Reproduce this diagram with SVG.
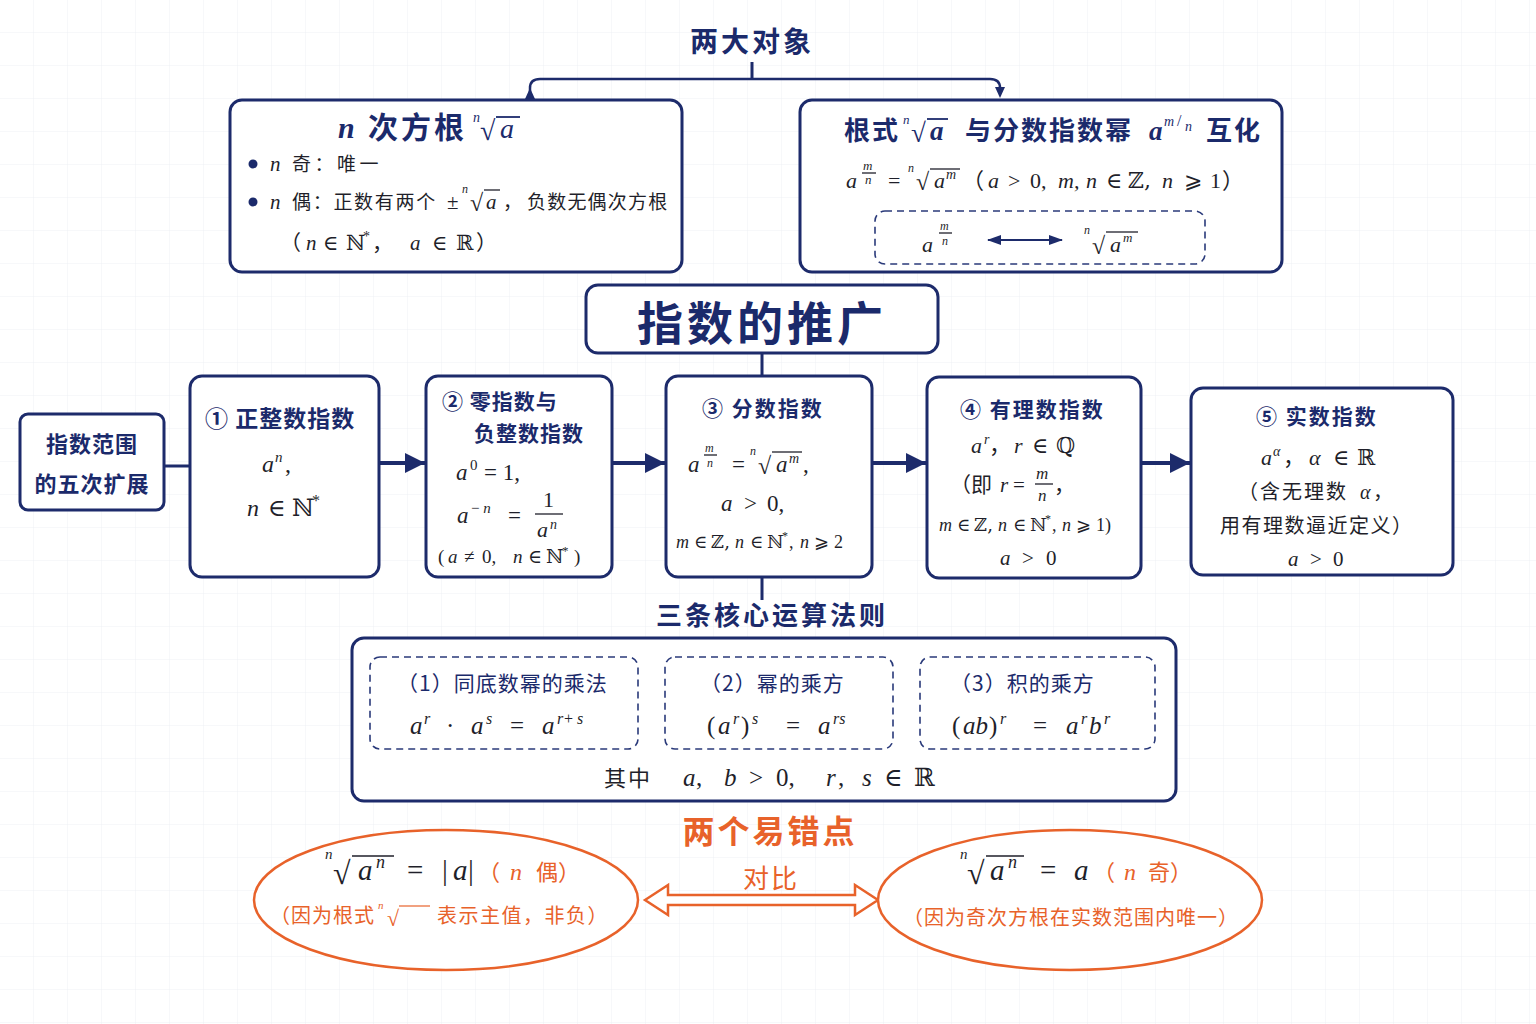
<svg xmlns="http://www.w3.org/2000/svg" width="1536" height="1024" viewBox="0 0 1536 1024">
<defs>
<pattern id="grid" width="34" height="33" patternUnits="userSpaceOnUse">
<path d="M34 0V33M0 33H34" fill="none" stroke="#eef1f5" stroke-width="1"/>
</pattern>
<marker id="ah" markerWidth="12" markerHeight="12" refX="6" refY="6" orient="auto" markerUnits="userSpaceOnUse">
<path d="M0,1 L11,6 L0,11 Z" fill="#1d2b6b"/>
</marker>
<marker id="big" markerWidth="22" markerHeight="22" refX="20" refY="11" orient="auto" markerUnits="userSpaceOnUse">
<path d="M0,1 L20,11 L0,21 Z" fill="#1d2b6b"/>
</marker>
<marker id="sm" markerWidth="14" markerHeight="12" refX="13" refY="6" orient="auto-start-reverse" markerUnits="userSpaceOnUse">
<path d="M0,1 L14,6 L0,11 Z" fill="#1d2b6b"/>
</marker>
</defs>
<style>
.box{fill:#fff;stroke:#1d2b6b;stroke-width:3}
.dash{fill:none;stroke:#2a3a7a;stroke-width:1.6;stroke-dasharray:7 5}
.ell{fill:#fff;stroke:#e8622a;stroke-width:2.5}
.cj{font-family:"Noto Sans CJK SC","Noto Sans",sans-serif}
.ms{font-family:"Liberation Serif","DejaVu Serif",serif}
.mi{font-family:"Liberation Serif","DejaVu Serif",serif;font-style:italic}
.ds{font-family:"DejaVu Serif","Liberation Serif",serif}
.navy{fill:#1b2a6b}
.dk{fill:#1f1f2a}
.or{fill:#e8622a}
.b{font-weight:bold}
.ln{stroke:#1d2b6b;stroke-width:3;fill:none}
.ov{stroke:#1f1f2a;stroke-width:1.3}
</style>
<rect width="1536" height="1024" fill="#fff"/>
<rect width="1536" height="1024" fill="url(#grid)"/>

<g id="connectors">
<path class="ln" d="M752,62 V79"/>
<path class="ln" d="M530,93 V88 Q530,79 540,79 H990 Q1000,79 1000,88 V93" marker-start="url(#ah)" marker-end="url(#ah)" style="stroke-width:2.5"/>
<path class="ln" d="M762,353 V377"/>
<path class="ln" d="M164,466 H190"/>
<path class="ln" d="M379,463 H425" style="stroke-width:4" marker-end="url(#big)"/>
<path class="ln" d="M612,463 H665" style="stroke-width:4" marker-end="url(#big)"/>
<path class="ln" d="M872,463 H926" style="stroke-width:4" marker-end="url(#big)"/>
<path class="ln" d="M1141,463 H1190" style="stroke-width:4" marker-end="url(#big)"/>
<path class="ln" d="M762,577 V600"/>
<polygon points="645,900 668,885 668,895 855,895 855,885 878,900 855,915 855,905 668,905 668,915" fill="#fff" stroke="#e8622a" stroke-width="2.5" stroke-linejoin="miter"/>
</g>

<g id="title-top">
<text x="752" y="52" text-anchor="middle" class="cj navy b" font-size="28" letter-spacing="3">两大对象</text>
</g>

<g id="node-nroot">
<rect class="box" x="230" y="100" width="452" height="172" rx="12"/>
<text y="138" font-size="30" class="navy b"><tspan class="mi" x="338">n</tspan><tspan class="cj" x="368" letter-spacing="3">次方根</tspan></text>
<text x="473" y="122" font-size="14" class="mi navy">n</text>
<text x="480" y="140" font-size="28" class="ms navy">√</text>
<line x1="496" y1="117" x2="520" y2="117" stroke="#1b2a6b" stroke-width="1.8"/>
<text x="500" y="138" font-size="28" class="mi navy">a</text>
<circle cx="253" cy="164" r="4.5" fill="#1b2a6b"/>
<text y="171" font-size="19" class="dk"><tspan class="mi" x="270" font-size="21">n</tspan><tspan class="cj" x="292" letter-spacing="3.5">奇：唯一</tspan></text>
<circle cx="253" cy="202" r="4.5" fill="#1b2a6b"/>
<text y="209" font-size="19" class="dk"><tspan class="mi" x="270" font-size="21">n</tspan><tspan class="cj" x="292" letter-spacing="1.7">偶：正数有两个</tspan><tspan class="ms" x="447" font-size="21">±</tspan><tspan class="cj" x="503">，</tspan><tspan class="cj" x="527" letter-spacing="1.2">负数无偶次方根</tspan></text>
<text x="462" y="193" font-size="12" class="mi dk">n</text>
<text x="470" y="211" font-size="24" class="ms dk">√</text>
<line class="ov" x1="484" y1="190" x2="500" y2="190"/>
<text x="486" y="209" font-size="21" class="mi dk">a</text>
<text y="250" font-size="21" class="dk"><tspan class="cj" x="280">（</tspan><tspan class="mi" x="306">n</tspan><tspan class="ms" x="323">∈</tspan><tspan class="ds" x="346">ℕ</tspan><tspan class="ms" x="363" dy="-9" font-size="14">*</tspan><tspan class="cj" x="372" dy="9">，</tspan><tspan class="mi" x="410">a</tspan><tspan class="ms" x="432">∈</tspan><tspan class="ds" x="456">ℝ</tspan><tspan class="cj" x="476">）</tspan></text>
</g>

<g id="node-convert">
<rect class="box" x="800" y="100" width="482" height="172" rx="12"/>
<text y="140" font-size="26" class="navy b"><tspan class="cj" x="844" letter-spacing="2">根式</tspan><tspan class="mi" x="930" font-size="27">a</tspan><tspan class="cj" x="965" letter-spacing="2">与分数指数幂</tspan><tspan class="mi" x="1149" font-size="27">a</tspan><tspan class="cj" x="1206" letter-spacing="2">互化</tspan></text>
<text x="903" y="124" font-size="13" class="mi navy">n</text>
<text x="911" y="142" font-size="27" class="ms navy">√</text>
<line x1="927" y1="119" x2="948" y2="119" stroke="#1b2a6b" stroke-width="1.8"/>
<text x="1164" y="126" font-size="14" class="mi navy">m</text>
<text x="1177" y="126" font-size="16" class="ms navy">/</text>
<text x="1185" y="131" font-size="14" class="mi navy">n</text>
<text y="188" font-size="22" class="dk"><tspan class="mi" x="846">a</tspan><tspan class="ms" x="888">=</tspan><tspan class="mi" x="934">a</tspan><tspan class="mi" x="946" dy="-9" font-size="14">m</tspan><tspan class="cj" x="962" dy="9">（</tspan><tspan class="mi" x="988">a</tspan><tspan class="ms" x="1008">&gt;</tspan><tspan class="ms" x="1030">0,</tspan><tspan class="mi" x="1058">m,</tspan><tspan class="mi" x="1086">n</tspan><tspan class="ms" x="1106">∈</tspan><tspan class="ds" x="1128">ℤ,</tspan><tspan class="mi" x="1162">n</tspan><tspan class="ds" x="1184">⩾</tspan><tspan class="ms" x="1210">1</tspan><tspan class="cj" x="1222">）</tspan></text>
<text x="863" y="170" font-size="13" class="mi dk">m</text>
<line class="ov" x1="862" y1="173" x2="876" y2="173"/>
<text x="865" y="184" font-size="13" class="mi dk">n</text>
<text x="908" y="172" font-size="12" class="mi dk">n</text>
<text x="916" y="190" font-size="24" class="ms dk">√</text>
<line class="ov" x1="930" y1="169" x2="960" y2="169"/>
<rect class="dash" x="875" y="211" width="330" height="53" rx="10"/>
<text x="922" y="252" font-size="22" class="mi dk">a</text>
<text x="940" y="230" font-size="12" class="mi dk">m</text>
<line class="ov" x1="939" y1="233" x2="952" y2="233"/>
<text x="942" y="245" font-size="12" class="mi dk">n</text>
<line x1="988" y1="240" x2="1062" y2="240" stroke="#1d2b6b" stroke-width="2" marker-start="url(#sm)" marker-end="url(#sm)"/>
<text x="1084" y="234" font-size="12" class="mi dk">n</text>
<text x="1092" y="254" font-size="24" class="ms dk">√</text>
<line class="ov" x1="1106" y1="232" x2="1138" y2="232"/>
<text x="1110" y="252" font-size="22" class="mi dk">a</text>
<text x="1123" y="242" font-size="13" class="mi dk">m</text>
</g>

<g id="node-center">
<rect class="box" x="586" y="285" width="352" height="68" rx="12"/>
<text x="762" y="340" text-anchor="middle" class="cj navy b" font-size="46" letter-spacing="4">指数的推广</text>
</g>

<g id="node-range">
<rect class="box" x="20" y="414" width="144" height="96" rx="8"/>
<text x="92" y="452" text-anchor="middle" class="cj navy b" font-size="22" letter-spacing="1">指数范围</text>
<text x="92" y="492" text-anchor="middle" class="cj navy b" font-size="22" letter-spacing="1">的五次扩展</text>
</g>

<g id="node-1">
<rect class="box" x="190" y="376" width="189" height="201" rx="12"/>
<text x="205" y="427" class="cj navy b" font-size="23" letter-spacing="1">① 正整数指数</text>
<text y="472" font-size="24" class="dk"><tspan class="mi" x="262">a</tspan><tspan class="mi" x="275" dy="-10" font-size="15">n</tspan><tspan class="ms" x="285" dy="10">,</tspan></text>
<text y="516" font-size="24" class="dk"><tspan class="mi" x="247">n</tspan><tspan class="ms" x="268">∈</tspan><tspan class="ds" x="292">ℕ</tspan><tspan class="ms" x="312" dy="-10" font-size="16">*</tspan></text>
</g>

<g id="node-2">
<rect class="box" x="426" y="376" width="186" height="201" rx="12"/>
<text x="442" y="409" class="cj navy b" font-size="21" letter-spacing="1">② 零指数与</text>
<text x="474" y="441" class="cj navy b" font-size="21" letter-spacing="1">负整数指数</text>
<text y="480" font-size="23" class="dk"><tspan class="mi" x="456">a</tspan><tspan class="ms" x="470" dy="-10" font-size="15">0</tspan><tspan class="ms" x="484" dy="10">= 1,</tspan></text>
<text y="523" font-size="23" class="dk"><tspan class="mi" x="457">a</tspan><tspan class="ms" x="471" dy="-10" font-size="15">− </tspan><tspan class="mi" font-size="15">n</tspan><tspan class="ms" x="508" dy="10">=</tspan></text>
<text x="543" y="507" font-size="22" class="ms dk">1</text>
<line class="ov" x1="535" y1="514" x2="563" y2="514"/>
<text y="537" font-size="22" class="dk"><tspan class="mi" x="537">a</tspan><tspan class="mi" x="550" dy="-8" font-size="14">n</tspan></text>
<text y="563" font-size="19" class="dk"><tspan class="ms" x="438">(</tspan><tspan class="mi" x="448">a</tspan><tspan class="ms" x="464">≠</tspan><tspan class="ms" x="482">0,</tspan><tspan class="mi" x="513">n</tspan><tspan class="ms" x="528">∈</tspan><tspan class="ds" x="546">ℕ</tspan><tspan class="ms" x="562" dy="-8" font-size="13">*</tspan><tspan class="ms" x="574" dy="8">)</tspan></text>
</g>

<g id="node-3">
<rect class="box" x="666" y="376" width="206" height="201" rx="12"/>
<text x="702" y="416" class="cj navy b" font-size="21" letter-spacing="2">③ 分数指数</text>
<text y="472" font-size="23" class="dk"><tspan class="mi" x="688">a</tspan><tspan class="ms" x="732">=</tspan><tspan class="mi" x="776">a</tspan><tspan class="mi" x="789" dy="-9" font-size="14">m</tspan><tspan class="ms" x="803" dy="9">,</tspan></text>
<text x="705" y="452" font-size="12" class="mi dk">m</text>
<line class="ov" x1="704" y1="455" x2="717" y2="455"/>
<text x="707" y="467" font-size="12" class="mi dk">n</text>
<text x="750" y="455" font-size="12" class="mi dk">n</text>
<text x="758" y="474" font-size="24" class="ms dk">√</text>
<line class="ov" x1="772" y1="452" x2="802" y2="452"/>
<text y="511" font-size="23" class="dk"><tspan class="mi" x="721">a</tspan><tspan class="ms" x="744">&gt;</tspan><tspan class="ms" x="767">0,</tspan></text>
<text y="548" font-size="18" class="dk"><tspan class="mi" x="676">m</tspan><tspan class="ms" x="694">∈</tspan><tspan class="ds" x="711">ℤ,</tspan><tspan class="mi" x="735">n</tspan><tspan class="ms" x="750">∈</tspan><tspan class="ds" x="767">ℕ</tspan><tspan class="ms" x="782" dy="-8" font-size="12">*</tspan><tspan class="ms" x="789" dy="8">,</tspan><tspan class="mi" x="800">n</tspan><tspan class="ds" x="814">⩾</tspan><tspan class="ms" x="834">2</tspan></text>
</g>

<g id="node-4">
<rect class="box" x="927" y="377" width="214" height="201" rx="12"/>
<text x="960" y="417" class="cj navy b" font-size="21" letter-spacing="2">④ 有理数指数</text>
<text y="453" font-size="22" class="dk"><tspan class="mi" x="971">a</tspan><tspan class="mi" x="984" dy="-9" font-size="14">r</tspan><tspan class="cj" x="989" dy="9">，</tspan><tspan class="mi" x="1014">r</tspan><tspan class="ms" x="1032">∈</tspan><tspan class="ds" x="1056">ℚ</tspan></text>
<text y="492" font-size="21" class="dk"><tspan class="cj" x="950">（即</tspan><tspan class="mi" x="1000">r</tspan><tspan class="ms" x="1013">=</tspan><tspan class="cj" x="1054">，</tspan></text>
<text x="1036" y="479" font-size="17" class="mi dk">m</text>
<line class="ov" x1="1035" y1="484" x2="1053" y2="484"/>
<text x="1038" y="501" font-size="17" class="mi dk">n</text>
<text y="531" font-size="18" class="dk"><tspan class="mi" x="939">m</tspan><tspan class="ms" x="957">∈</tspan><tspan class="ds" x="974">ℤ,</tspan><tspan class="mi" x="998">n</tspan><tspan class="ms" x="1013">∈</tspan><tspan class="ds" x="1030">ℕ</tspan><tspan class="ms" x="1045" dy="-8" font-size="12">*</tspan><tspan class="ms" x="1052" dy="8">,</tspan><tspan class="mi" x="1062">n</tspan><tspan class="ds" x="1076">⩾</tspan><tspan class="ms" x="1096">1)</tspan></text>
<text y="565" font-size="21" class="dk"><tspan class="mi" x="1000">a</tspan><tspan class="ms" x="1022">&gt;</tspan><tspan class="ms" x="1046">0</tspan></text>
</g>

<g id="node-5">
<rect class="box" x="1191" y="388" width="262" height="187" rx="12"/>
<text x="1256" y="424" class="cj navy b" font-size="21" letter-spacing="2">⑤ 实数指数</text>
<text y="465" font-size="22" class="dk"><tspan class="mi" x="1261">a</tspan><tspan class="mi" x="1273" dy="-9" font-size="14">α</tspan><tspan class="cj" x="1283" dy="9">，</tspan><tspan class="mi" x="1309">α</tspan><tspan class="ms" x="1333">∈</tspan><tspan class="ds" x="1357">ℝ</tspan></text>
<text y="499" font-size="20" class="dk"><tspan class="cj" x="1238" letter-spacing="2">（含无理数</tspan><tspan class="mi" x="1360">α</tspan><tspan class="cj" x="1373">，</tspan></text>
<text x="1220" y="533" font-size="20" class="cj dk" letter-spacing="1.5">用有理数逼近定义）</text>
<text y="566" font-size="21" class="dk"><tspan class="mi" x="1288">a</tspan><tspan class="ms" x="1310">&gt;</tspan><tspan class="ms" x="1333">0</tspan></text>
</g>

<g id="rules-title">
<text x="772" y="625" text-anchor="middle" class="cj navy b" font-size="26" letter-spacing="3">三条核心运算法则</text>
</g>

<g id="node-rules">
<rect class="box" x="352" y="638" width="824" height="163" rx="12"/>
<rect class="dash" x="370" y="657" width="268" height="92" rx="10"/>
<rect class="dash" x="665" y="657" width="228" height="92" rx="10"/>
<rect class="dash" x="920" y="657" width="235" height="92" rx="10"/>
<text x="397" y="691" class="cj navy" font-size="21" letter-spacing="1">（1）同底数幂的乘法</text>
<text x="700" y="691" class="cj navy" font-size="21" letter-spacing="1">（2）幂的乘方</text>
<text x="950" y="691" class="cj navy" font-size="21" letter-spacing="1">（3）积的乘方</text>
<text y="734" font-size="25" class="dk"><tspan class="mi" x="410">a</tspan><tspan class="mi" x="424" dy="-10" font-size="16">r</tspan><tspan class="ms" x="446" dy="10">·</tspan><tspan class="mi" x="471">a</tspan><tspan class="mi" x="486" dy="-10" font-size="16">s</tspan><tspan class="ms" x="510" dy="10">=</tspan><tspan class="mi" x="542">a</tspan><tspan class="mi" x="557" dy="-10" font-size="16">r</tspan><tspan class="ms" x="564" font-size="16">+</tspan><tspan class="mi" x="577" font-size="16">s</tspan></text>
<text y="734" font-size="25" class="dk"><tspan class="ms" x="707">(</tspan><tspan class="mi" x="718">a</tspan><tspan class="mi" x="733" dy="-10" font-size="16">r</tspan><tspan class="ms" x="741" dy="10">)</tspan><tspan class="mi" x="752" dy="-10" font-size="16">s</tspan><tspan class="ms" x="786" dy="10">=</tspan><tspan class="mi" x="818">a</tspan><tspan class="mi" x="833" dy="-10" font-size="16">rs</tspan></text>
<text y="734" font-size="25" class="dk"><tspan class="ms" x="952">(</tspan><tspan class="mi" x="963">ab</tspan><tspan class="ms" x="989">)</tspan><tspan class="mi" x="1000" dy="-10" font-size="16">r</tspan><tspan class="ms" x="1033" dy="10">=</tspan><tspan class="mi" x="1066">a</tspan><tspan class="mi" x="1081" dy="-10" font-size="16">r</tspan><tspan class="mi" x="1089" dy="10">b</tspan><tspan class="mi" x="1104" dy="-10" font-size="16">r</tspan></text>
<text y="786" font-size="25" class="dk"><tspan class="cj" x="604" font-size="22" letter-spacing="2">其中</tspan><tspan class="mi" x="683">a</tspan><tspan class="ms" x="696">,</tspan><tspan class="mi" x="724">b</tspan><tspan class="ms" x="749">&gt;</tspan><tspan class="ms" x="776">0,</tspan><tspan class="mi" x="826">r</tspan><tspan class="ms" x="838">,</tspan><tspan class="mi" x="862">s</tspan><tspan class="ms" x="884">∈</tspan><tspan class="ds" x="914">ℝ</tspan></text>
</g>

<g id="errors-title">
<text x="770" y="843" text-anchor="middle" class="cj or b" font-size="32" letter-spacing="3">两个易错点</text>
<text x="771" y="888" text-anchor="middle" class="cj or" font-size="26" letter-spacing="2">对比</text>
</g>

<g id="node-even">
<ellipse class="ell" cx="446" cy="900" rx="192" ry="70"/>
<text x="325" y="859" font-size="15" class="mi dk">n</text>
<text x="333" y="884" font-size="32" class="ms dk">√</text>
<line class="ov" x1="352" y1="856" x2="394" y2="856" stroke-width="1.6"/>
<text y="880" font-size="29" class="dk"><tspan class="mi" x="358">a</tspan><tspan class="mi" x="376" dy="-12" font-size="18">n</tspan><tspan class="ms" x="407" dy="12">=</tspan><tspan class="ms" x="442">|</tspan><tspan class="mi" x="453">a</tspan><tspan class="ms" x="468">|</tspan></text>
<text y="880" font-size="22" class="or"><tspan class="cj" x="478">（</tspan><tspan class="mi" x="510" font-size="24">n</tspan><tspan class="cj" x="536">偶）</tspan></text>
<text y="923" font-size="20" class="cj or" letter-spacing="1"><tspan x="270">（因为根式</tspan><tspan x="437" letter-spacing="1.5">表示主值，非负）</tspan></text>
<text x="378" y="909" font-size="11" class="mi or">n</text>
<text x="387" y="926" font-size="22" class="ms or">√</text>
<line x1="399" y1="906" x2="430" y2="906" stroke="#e8622a" stroke-width="1.2"/>
</g>

<g id="node-odd">
<ellipse class="ell" cx="1070" cy="900" rx="192" ry="70"/>
<text x="960" y="859" font-size="15" class="mi dk">n</text>
<text x="967" y="884" font-size="32" class="ms dk">√</text>
<line class="ov" x1="986" y1="856" x2="1024" y2="856" stroke-width="1.6"/>
<text y="880" font-size="29" class="dk"><tspan class="mi" x="990">a</tspan><tspan class="mi" x="1008" dy="-12" font-size="18">n</tspan><tspan class="ms" x="1040" dy="12">=</tspan><tspan class="mi" x="1074">a</tspan></text>
<text y="880" font-size="22" class="or"><tspan class="cj" x="1093">（</tspan><tspan class="mi" x="1124" font-size="24">n</tspan><tspan class="cj" x="1148">奇）</tspan></text>
<text x="903" y="925" font-size="20" class="cj or" letter-spacing="1">（因为奇次方根在实数范围内唯一）</text>
</g>
</svg>
